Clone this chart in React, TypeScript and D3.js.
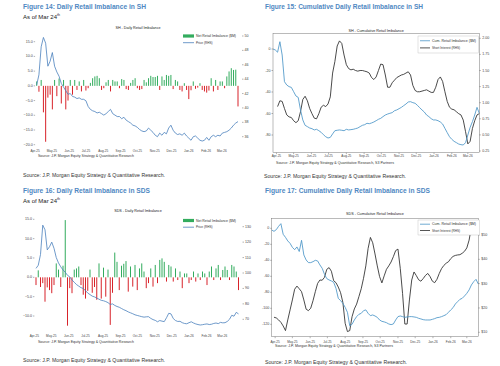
import React from "react";
import * as d3 from "d3";

// ---------- categories ----------
const START = new Date(2025, 2, 26);
const N = 91;
const dates: Date[] = d3.range(N).map((k) => d3.timeDay.offset(START, 4 * k));
const END = dates[N - 1];
const monthTicks = d3.timeMonth.range(new Date(2025, 3, 1), new Date(2026, 3, 1));
const fmtMonth = d3.timeFormat("%b-%y");

// ---------- SH ----------
const shNet = [1.5,-2.0,2.0,-9.0,-19.0,-4.0,-3.0,-8.0,2.0,-3.5, 2.5,-6.0,2.0,-8.0,-5.0,2.0,-3.0,2.0,-1.4,1.5, -1.9,2.0,-1.6,-0.8,1.0,2.6,3.2,3.4,2.6,-1.4, -0.8,1.2,2.0,-1.9,2.0,1.5,1.5,-0.8,2.3,2.0, -1.1,-1.4,1.0,2.0,2.6,-0.8,-1.4,-1.1,2.0,1.2, 2.6,3.4,3.0,3.0,3.4,-1.4,3.2,2.0,3.7,3.4, 3.7,-1.1,2.0,1.5,-1.4,-1.9,0.9,-1.4,-4.5,-1.5, 1.5,-1.0,-0.6,0.9,-1.4,-1.9,-2.3,-1.6,2.6,-1.9, 2.0,-1.4,1.5,1.5,-0.8,3.2,4.9,6.0,5.4,5.5, -7.0];
const shPrice = [43.2,44.6,48.5,49.8,49.0,45.8,46.5,47.7,45.8,45.0, 44.4,43.4,42.9,42.4,41.9,42.0,41.6,41.5,41.3,41.4, 41.2,41.2,41.0,40.2,39.8,39.6,39.5,39.3,39.4,39.2, 39.0,39.2,39.5,39.8,39.2,39.0,38.8,38.8,38.5,38.7, 38.3,38.1,37.9,37.6,37.5,37.3,37.0,36.8,36.7,36.8, 37.2,36.9,36.6,36.2,36.0,36.5,36.2,36.6,36.4,37.2, 37.6,36.9,36.5,36.3,36.4,36.2,36.5,36.1,35.8,35.5, 36.0,36.1,35.8,35.5,35.4,35.5,35.9,35.5,36.0,36.2, 36.0,36.2,36.1,36.5,36.6,36.7,36.9,37.2,37.6,37.9, 38.1];
const shCum = [0,-0.9,-3,6.8,-5.6,-30.4,-33.5,-35,-35.7,-39.7, -43.7,-45,-56.7,-66,-71,-72.2,-73.5,-74.1,-75.3,-74.7, -76,-77.5,-79.7,-81.6,-82.8,-82.2,-79,-76,-75.6,-75.3, -75.6,-76,-74.7,-75.3,-75,-74.7,-74.1,-73.5,-72.2,-71, -70.4,-69.1,-69.5,-68.8,-67.9,-66.7,-65.4,-64.5,-62.9,-61.4, -60.5,-59.8,-59.2,-57.4,-56.7,-55.5,-54.3,-52.7,-51.2,-49.3, -49,-49.9,-50.5,-52.4,-54.6,-56.7,-58.6,-61.4,-62.9,-64.8, -66,-66,-66.7,-67.9,-69.8,-73.8,-77.8,-81.6,-84,-85.9, -87.1,-88.4,-89,-89.3,-87.1,-80,-72.9,-67.6,-61.4,-54.3, -59.8];
const shShort: (number | null)[] = [null,null,0.94,1.03,1.02,0.91,0.81,0.78,0.77,0.72, 0.69,0.72,0.86,1.05,1.10,1.03,0.91,0.83,0.76,0.75, 0.83,0.93,0.96,0.94,0.98,1.09,1.46,1.64,1.88,1.96, 1.92,1.74,1.59,1.53,1.51,1.52,1.50,1.49,1.50,1.50, 1.49,1.48,1.46,1.39,1.36,1.40,1.50,1.60,1.59,1.43, 1.24,1.24,1.31,1.35,1.39,1.41,1.43,1.44,1.46,1.48, 1.43,1.27,1.19,1.17,1.17,1.18,1.19,1.20,1.18,1.16, 1.16,1.24,1.36,1.40,1.33,1.17,1.02,0.93,0.90,0.89, 0.86,0.83,0.81,0.73,0.55,0.36,0.40,0.60,0.72,0.81, 0.83];

// ---------- SDS ----------
const sdsNet = [-2.0,1.8,-2.5,-1.5,-6.3,-2.6,-3.3,-4.1,-2.0,3.6, 2.0,-2.5,3.0,14.8,-12.5,-2.8,-4.1,2.0,2.3,2.8, -2.0,-4.5,-5.5,-3.5,2.0,-4.0,-2.5,-5.8,3.6,-5.5, 2.5,-5.0,2.0,-12.3,-4.0,6.4,4.0,-3.3,3.0,3.5, 4.2,-3.7,2.8,-2.4,3.2,-3.3,2.3,3.6,1.5,-2.8, -1.5,2.3,-2.4,3.2,-1.5,4.5,4.9,4.0,-1.1,3.2, 2.8,-1.1,2.3,-0.7,1.5,-2.8,1.0,1.0,-1.5,-0.7, 1.5,-1.1,1.0,-0.7,1.5,1.0,-2.0,1.5,2.8,-0.7, 2.3,3.2,-0.7,1.9,2.8,1.9,-0.7,3.2,2.8,1.5, -3.3];
const sdsPrice = [103,105,112,131,128,115,117,120,116,110, 106.5,104,102,100.5,98.5,97.5,95.5,94,92.5,91.5, 90.5,90,88.5,87,86,85,84.5,83.8,83,82.3, 82,81.5,80.8,79.6,80,79,78.3,77.8,77,76.2, 75.6,74.8,74.2,73.6,72.9,72.5,72.1,71.7,71.4,71.6, 71.7,70.6,69.8,69.3,68.4,69.2,68.8,68.5,71,73.9, 73.5,70.5,69.2,68.6,68.7,67.8,67.3,67.1,67.8,68.4, 67.6,67.0,66.6,66.3,66.5,66.8,67,66.6,66.8,67.3, 67.6,67.2,68,67.7,67.8,68.6,70,72.6,72,74.5, 73.5];
const sdsCum = [-2.1,-3.8,-1.7,2.5,5.8,-7.5,-11.3,-15.8,-18.8,-23.8, -26.7,-23.3,-29,-15,-33.3,-39.6,-42.9,-42.9,-41.7,-40, -40.8,-45.8,-50,-57.5,-62.9,-64.6,-65.8,-67.5,-75,-87.5, -90.4,-93.8,-98.8,-105,-122,-120,-114.6,-110.4,-107.5,-106.3, -103,-102,-106.3,-109.2,-108.3,-109.6,-111.3,-114.6,-116.3,-117, -118,-119.6,-120.4,-119.6,-114.6,-110.4,-109.6,-110.4,-111.3,-110.8, -110.4,-110.4,-110.8,-111.3,-112.5,-113.3,-114.2,-114.6,-114.6,-114.6, -113.8,-112.9,-111.7,-111.3,-110.4,-109.2,-107.9,-105,-102,-99.2, -94.6,-91.7,-88.8,-87.5,-84.6,-81.3,-77,-70.8,-66.7,-63.8, -69.6];
const sdsShort: (number | null)[] = [null,16.2,15.9,15.1,14.1,12.6,10.7,15.1,19.2,23.3, 27.7,29,27.9,26.7,23.3,19.5,18.9,19.9,23,26.7, 30.1,31.5,31.4,32.6,35.9,36.6,35.1,31.2,30.4,28.6, 26.3,22.3,13.7,10.3,10.7,16.4,19.6,21.6,24.7,27.9, 32.2,37.3,44.5,49,46.8,42.2,37.3,32.9,30.3,33.2, 35.9,37.3,38.9,41.1,43.6,44.2,36.3,26,13.4,13.4, 23.3,31.5,34.8,33.3,31.6,31,32.1,33.4,34.2,32.9, 31,30.4,31.8,34.2,36.2,37.5,38.4,39,40.3,41.2, 41.6,41.8,41.9,42.5,43.3,44.7,47.9,53.4,55.1,54.8, 54.2];

// ---------- tick labels ----------
const shDailyLeftTicks = [15, 10, 5, 0, -5, -10, -15, -20];
const shDailyRightTicks = [50, 48, 46, 44, 42, 40, 38, 36];
const sdsDailyLeftTicks = [15, 10, 5, 0, -5, -10];
const sdsDailyRightTicks = [130, 120, 110, 100, 90, 80, 70];
const shCumLeftTicks = [0, -20, -40, -60, -80];
const shCumRightTicks = [2.0, 1.75, 1.5, 1.25, 1.0, 0.75, 0.5, 0.25];
const sdsCumLeftTicks = [0, -20, -40, -60, -80, -100, -120];
const sdsCumRightTicks = [50, 40, 30, 20, 10];

const FONT = "'Liberation Sans', Arial, Helvetica, sans-serif";
const GREEN = "#33ac5e";
const RED = "#d8232a";
const BLUE = "#4a80bd";
const CUMBLUE = "#4b96c8";
const DARK = "#2b2b2b";
const TITLE = "#4f88c2";
const AX = "#666";
const SRC_SMALL = "Source: J.P. Morgan Equity Strategy & Quantitative Research";
const SRC = "Source: J.P. Morgan Equity Strategy & Quantitative Research.";

type DailyCfg = {
  xr: [number, number]; ld: [number, number]; lr: [number, number];
  rd: [number, number]; rr: [number, number]; leftTicks: number[]; rightTicks: number[];
  monthY: number; labelShift: number; title: string; titleY: number; legY: number; srcY: number;
};

function Daily({ cfg, net, price }: { cfg: DailyCfg; net: number[]; price: number[] }) {
  const x = d3.scaleTime().domain([START, END]).range(cfg.xr);
  const yL = d3.scaleLinear().domain(cfg.ld).range(cfg.lr);
  const yR = d3.scaleLinear().domain(cfg.rd).range(cfg.rr);
  const line = d3.line<number>().x((_, i) => x(dates[i])).y((d) => yR(d));
  const fL = d3.format(".1f");
  return (
    <g fontFamily={FONT}>
      {net.map((v, i) => (
        <rect key={i} x={x(dates[i]) - 0.5} width={1.0}
          y={Math.min(yL(v), yL(0))} height={Math.abs(yL(v) - yL(0))}
          fill={v >= 0 ? GREEN : RED} />
      ))}
      <path d={line(price) || ""} fill="none" stroke={BLUE} strokeWidth={0.8} />
      {cfg.leftTicks.map((t) => (
        <g key={t}>
          <text x={cfg.xr[0] - 4} y={yL(t)} fontSize={3.6} fill="#444" textAnchor="end" dominantBaseline="central">{fL(t)}</text>
          <line x1={cfg.xr[0] - 3} x2={cfg.xr[0] - 1.6} y1={yL(t)} y2={yL(t)} stroke={AX} strokeWidth={0.5} />
        </g>
      ))}
      {cfg.rightTicks.map((t) => (
        <g key={t}>
          <line x1={cfg.xr[1] + 4} x2={cfg.xr[1] + 5.5} y1={yR(t)} y2={yR(t)} stroke={AX} strokeWidth={0.5} />
          <text x={cfg.xr[1] + 6.5} y={yR(t)} fontSize={3.6} fill="#444" dominantBaseline="central">{t}</text>
        </g>
      ))}
      {monthTicks.map((m, i) => (
        <g key={i}>
          <text x={x(m) + cfg.labelShift} y={cfg.monthY} fontSize={3.1} fill="#444" textAnchor="middle" dominantBaseline="central">{fmtMonth(m)}</text>
        </g>
      ))}
      <text x={138} y={cfg.titleY} fontSize={3.7} fill="#222" textAnchor="middle" dominantBaseline="central">{cfg.title}</text>
      <rect x={183} y={cfg.legY - 1.6} width={11} height={3.2} fill={GREEN} />
      <text x={196} y={cfg.legY} fontSize={3.1} fill="#333" dominantBaseline="central" textLength={40} lengthAdjust="spacingAndGlyphs">Net Retail Imbalance ($M)</text>
      <line x1={183} x2={194} y1={cfg.legY + 6.7} y2={cfg.legY + 6.7} stroke={BLUE} strokeWidth={0.8} />
      <text x={196} y={cfg.legY + 6.7} fontSize={3.1} fill="#333" dominantBaseline="central">Price (RHS)</text>
      <text x={38} y={cfg.srcY} fontSize={3.1} fill="#333" dominantBaseline="central" textLength={96} lengthAdjust="spacingAndGlyphs">{SRC_SMALL}</text>
    </g>
  );
}

type CumCfg = {
  box: [number, number, number, number]; ld: [number, number]; lr: [number, number];
  rd: [number, number]; rr: [number, number]; leftTicks: number[]; rightTicks: number[];
  rightFmt: (v: number) => string; monthY: number; title: string; titleY: number;
  leg: [number, number, number, number]; srcY: number; srcX: number;
};

function Cum({ cfg, cum, short }: { cfg: CumCfg; cum: number[]; short: (number | null)[] }) {
  const [bx0, by0, bx1, by1] = cfg.box;
  const x = d3.scaleTime().domain([START, END]).range([bx0, bx1]);
  const yL = d3.scaleLinear().domain(cfg.ld).range(cfg.lr);
  const yR = d3.scaleLinear().domain(cfg.rd).range(cfg.rr);
  const lineL = d3.line<number>().x((_, i) => x(dates[i])).y((d) => yL(d));
  const lineR = d3.line<number | null>().defined((d) => d !== null).x((_, i) => x(dates[i])).y((d) => yR(d as number));
  const [lx0, ly0, lx1, ly1] = cfg.leg;
  return (
    <g fontFamily={FONT}>
      <path d={lineR(short) || ""} fill="none" stroke={DARK} strokeWidth={0.85} />
      <path d={lineL(cum) || ""} fill="none" stroke={CUMBLUE} strokeWidth={0.85} />
      <rect x={bx0} y={by0} width={bx1 - bx0} height={by1 - by0} fill="none" stroke="#777" strokeWidth={0.5} />
      {cfg.leftTicks.map((t) => (
        <g key={t}>
          <line x1={bx0 - 1.5} x2={bx0} y1={yL(t)} y2={yL(t)} stroke={AX} strokeWidth={0.5} />
          <text x={bx0 - 2.5} y={yL(t)} fontSize={3.6} fill="#444" textAnchor="end" dominantBaseline="central">{t}</text>
        </g>
      ))}
      {cfg.rightTicks.map((t) => (
        <g key={t}>
          <line x1={bx1} x2={bx1 + 1.5} y1={yR(t)} y2={yR(t)} stroke={AX} strokeWidth={0.5} />
          <text x={bx1 + 3} y={yR(t)} fontSize={3.6} fill="#444" dominantBaseline="central">{cfg.rightFmt(t)}</text>
        </g>
      ))}
      {monthTicks.map((m, i) => (
        <g key={i}>
          <line x1={x(m)} x2={x(m)} y1={by1} y2={by1 + 1.5} stroke={AX} strokeWidth={0.5} />
          <text x={x(m)} y={cfg.monthY} fontSize={3.1} fill="#444" textAnchor="middle" dominantBaseline="central">{fmtMonth(m)}</text>
        </g>
      ))}
      <text x={(bx0 + bx1) / 2} y={cfg.titleY} fontSize={3.7} fill="#222" textAnchor="middle" dominantBaseline="central">{cfg.title}</text>
      <rect x={lx0} y={ly0} width={lx1 - lx0} height={ly1 - ly0} fill="#fff" stroke="#bbb" strokeWidth={0.4} />
      <line x1={lx0 + 2} x2={lx0 + 12} y1={ly0 + (ly1 - ly0) * 0.28} y2={ly0 + (ly1 - ly0) * 0.28} stroke={CUMBLUE} strokeWidth={0.8} />
      <text x={lx0 + 14} y={ly0 + (ly1 - ly0) * 0.28} fontSize={3.1} fill="#333" dominantBaseline="central" textLength={44} lengthAdjust="spacingAndGlyphs">Cum. Retail Imbalance ($M)</text>
      <line x1={lx0 + 2} x2={lx0 + 12} y1={ly0 + (ly1 - ly0) * 0.7} y2={ly0 + (ly1 - ly0) * 0.7} stroke={DARK} strokeWidth={0.8} />
      <text x={lx0 + 14} y={ly0 + (ly1 - ly0) * 0.7} fontSize={3.1} fill="#333" dominantBaseline="central">Short Interest (RHS)</text>
      <text x={cfg.srcX} y={cfg.srcY} fontSize={3.1} fill="#333" dominantBaseline="central" textLength={118} lengthAdjust="spacingAndGlyphs">{SRC_SMALL + ", S3 Partners"}</text>
    </g>
  );
}

const p1: DailyCfg = { xr: [36.7, 238], ld: [-20, 15], lr: [144.7, 41.7], rd: [36, 50], rr: [136.7, 36], leftTicks: shDailyLeftTicks, rightTicks: shDailyRightTicks, monthY: 151, labelShift: -5, title: "SH - Daily Retail Imbalance", titleY: 27.5, legY: 36, srcY: 155.7 };
const p3: DailyCfg = { xr: [36, 238.5], ld: [-10, 15], lr: [316, 219.3], rd: [70, 130], rr: [319.3, 226.7], leftTicks: sdsDailyLeftTicks, rightTicks: sdsDailyRightTicks, monthY: 336, labelShift: -5, title: "SDS - Daily Retail Imbalance", titleY: 210.7, legY: 220.5, srcY: 342 };
const p2: CumCfg = { box: [273, 33.3, 479.3, 152.7], ld: [-80, 0], lr: [135, 49], rd: [0.25, 2], rr: [151, 38.3], leftTicks: shCumLeftTicks, rightTicks: shCumRightTicks, rightFmt: d3.format(".2f"), monthY: 156, title: "SH - Cumulative Retail Imbalance", titleY: 30.7, leg: [418, 36, 478.5, 53], srcY: 163, srcX: 276 };
const p4: CumCfg = { box: [271.7, 218.3, 478.3, 336.7], ld: [-120, 0], lr: [324.3, 228.3], rd: [10, 50], rr: [332.3, 235], leftTicks: sdsCumLeftTicks, rightTicks: sdsCumRightTicks, rightFmt: (v) => "$" + v, monthY: 341.7, title: "SDS - Cumulative Retail Imbalance", titleY: 214.3, leg: [418, 220, 479.5, 235], srcY: 345.7, srcX: 275 };

function Heading({ x, y, text, w }: { x: number; y: number; text: string; w: number }) {
  return <text x={x} y={y} fontFamily={FONT} fontWeight="bold" fontSize={8} fill={TITLE} dominantBaseline="central" textLength={w} lengthAdjust="spacingAndGlyphs">{text}</text>;
}
function AsOf({ y }: { y: number }) {
  return (
    <text x={23} y={y} fontFamily={FONT} fontSize={6} fill="#222" dominantBaseline="central">
      As of Mar 24<tspan fontSize={3.6} dy={-2}>th</tspan>
    </text>
  );
}
function Source({ x, y }: { x: number; y: number }) {
  return <text x={x} y={y} fontFamily={FONT} fontSize={6} fill="#333" dominantBaseline="central" textLength={142} lengthAdjust="spacingAndGlyphs">{SRC}</text>;
}

export default function App() {
  return (
    <svg width={500} height={366} style={{ position: "absolute", left: 0, top: 0, background: "#fff" }}>
      <rect width={500} height={366} fill="#fff" />
      <Heading x={23} y={6} text="Figure 14: Daily Retail Imbalance in SH" w={123} />
      <AsOf y={17} />
      <Daily cfg={p1} net={shNet} price={shPrice} />
      <Source x={23} y={175} />

      <Heading x={265} y={6} text="Figure 15: Cumulative Daily Retail Imbalance in SH" w={158} />
      <Cum cfg={p2} cum={shCum} short={shShort} />
      <Source x={264} y={175.7} />

      <Heading x={23} y={190} text="Figure 16: Daily Retail Imbalance in SDS" w={127} />
      <AsOf y={200.7} />
      <Daily cfg={p3} net={sdsNet} price={sdsPrice} />
      <Source x={23} y={360} />

      <Heading x={265} y={190} text="Figure 17: Cumulative Daily Retail Imbalance in SDS" w={165} />
      <Cum cfg={p4} cum={sdsCum} short={sdsShort} />
      <Source x={265} y={361.7} />
    </svg>
  );
}
